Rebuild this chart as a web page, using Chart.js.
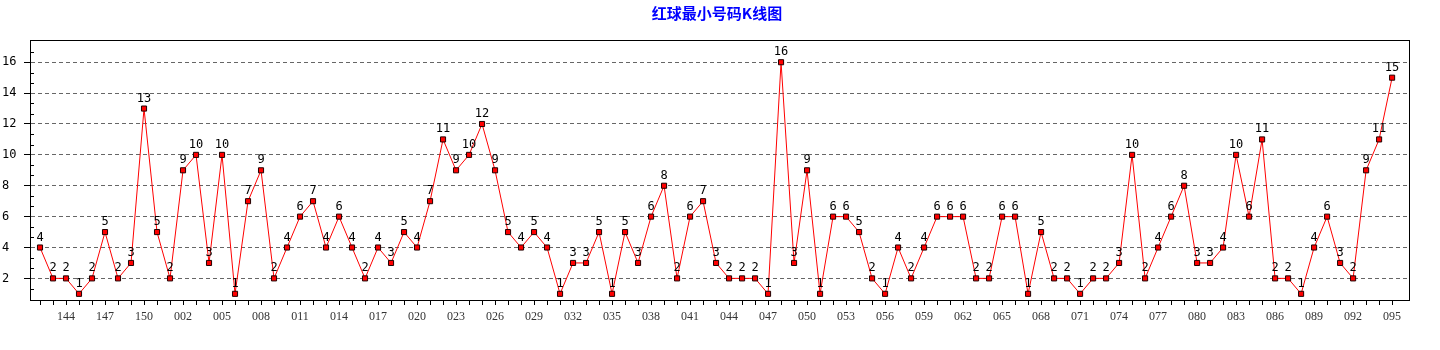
<!DOCTYPE html>
<html>
<head>
<meta charset="utf-8">
<title>红球最小号码K线图</title>
<script src="https://cdn.jsdelivr.net/npm/chart.js@4.4.1/dist/chart.umd.min.js"></script>
<style>
  html, body { margin: 0; padding: 0; background: #fff; }
  canvas { display: block; }
</style>
</head>
<body>
<canvas id="kline" width="1440" height="350"></canvas>
<script>
// Issue numbers (x axis) and the smallest red ball of each draw
const issues = [
  '142','143','144','145','146','147','148','149','150','151',
  '001','002','003','004','005','006','007','008','009','010',
  '011','012','013','014','015','016','017','018','019','020',
  '021','022','023','024','025','026','027','028','029','030',
  '031','032','033','034','035','036','037','038','039','040',
  '041','042','043','044','045','046','047','048','049','050',
  '051','052','053','054','055','056','057','058','059','060',
  '061','062','063','064','065','066','067','068','069','070',
  '071','072','073','074','075','076','077','078','079','080',
  '081','082','083','084','085','086','087','088','089','090',
  '091','092','093','094','095'
];
const minRed = [
  4, 2, 2, 1, 2, 5, 2, 3, 13, 5,
  2, 9, 10, 3, 10, 1, 7, 9, 2, 4,
  6, 7, 4, 6, 4, 2, 4, 3, 5, 4,
  7, 11, 9, 10, 12, 9, 5, 4, 5, 4,
  1, 3, 3, 5, 1, 5, 3, 6, 8, 2,
  6, 7, 3, 2, 2, 2, 1, 16, 3, 9,
  1, 6, 6, 5, 2, 1, 4, 2, 4, 6,
  6, 6, 2, 2, 6, 6, 1, 5, 2, 2,
  1, 2, 2, 3, 10, 2, 4, 6, 8, 3,
  3, 4, 10, 6, 11, 2, 2, 1, 4, 6,
  3, 2, 9, 11, 15
];
const yTicks = [2, 4, 6, 8, 10, 12, 14, 16];
const chartTitle = '红球最小号码K线图';

const MONO = '"DejaVu Sans Mono", monospace';

// title, drawn a bit right of centre like the original
const titlePlugin = {
  id: 'titleText',
  afterDraw(chart) {
    const ctx = chart.ctx;
    ctx.save();
    ctx.font = 'bold 15px "Noto Sans CJK SC", sans-serif';
    ctx.fillStyle = '#0000ff';
    ctx.textAlign = 'center';
    ctx.textBaseline = 'middle';
    ctx.fillText(chartTitle, 717, 13);
    ctx.restore();
  }
};

// value label above each point
const pointLabels = {
  id: 'pointLabels',
  afterDatasetsDraw(chart) {
    const ctx = chart.ctx;
    const meta = chart.getDatasetMeta(0);
    ctx.save();
    ctx.font = '12px ' + MONO;
    ctx.fillStyle = '#000';
    ctx.textAlign = 'center';
    ctx.textBaseline = 'alphabetic';
    meta.data.forEach((pt, i) => ctx.fillText(String(minRed[i]), pt.x, pt.y - 7));
    ctx.restore();
  }
};

// frame round the plot + small inner ticks on the y axis
const frame = {
  id: 'frame',
  afterDraw(chart) {
    const { ctx, chartArea: a } = chart;
    const y = chart.scales.y;
    ctx.save();
    ctx.strokeStyle = '#000';
    ctx.lineWidth = 1;
    ctx.strokeRect(Math.round(a.left) + 0.5, Math.round(a.top) + 0.5,
      Math.round(a.right - a.left), Math.round(a.bottom - a.top));
    ctx.beginPath();
    for (let k = -1; k <= 22; k++) {
      const v = 2 + k * 2 / 3;
      if (k % 3 === 0 || v < y.min || v > y.max) continue;
      const py = Math.round(y.getPixelForValue(v)) + 0.5;
      ctx.moveTo(a.left, py);
      ctx.lineTo(a.left + 4, py);
    }
    ctx.stroke();
    ctx.restore();
  }
};

new Chart(document.getElementById('kline'), {
  type: 'line',
  data: {
    datasets: [{
      data: minRed.map((v, i) => ({ x: i, y: v })),
      borderColor: '#ff0000',
      borderWidth: 1,
      tension: 0,
      pointStyle: 'rect',
      pointRadius: 3.6,
      pointBackgroundColor: '#ff0000',
      pointBorderColor: '#200000',
      pointBorderWidth: 1,
    }]
  },
  options: {
    responsive: false,
    animation: false,
    layout: { padding: { left: 2, right: 31, top: 40, bottom: 0 } },
    plugins: {
      legend: { display: false },
      tooltip: { enabled: false },
      title: { display: false },
    },
    scales: {
      x: {
        type: 'linear',
        min: -0.77,
        max: 105.3,
        afterBuildTicks: (s) => { s.ticks = issues.map((_, i) => ({ value: i })); },
        afterFit: (s) => { s.height = 50; },
        ticks: {
          autoSkip: false,
          maxRotation: 0,
          padding: 5,
          color: '#333',
          font: { family: '"Liberation Serif", serif', size: 12 },
          callback: (v) => (v % 3 === 2 ? issues[v] : ''),
        },
        grid: { drawOnChartArea: false, drawTicks: true, tickLength: 5, color: '#000' },
        border: { color: '#000', width: 1 },
      },
      y: {
        min: 0.6,
        max: 17.44,
        afterBuildTicks: (s) => { s.ticks = yTicks.map(v => ({ value: v })); },
        afterFit: (s) => { s.width = 28; },
        ticks: {
          crossAlign: 'far',
          padding: 4,
          color: '#000',
          font: { family: MONO, size: 12 },
        },
        grid: { color: '#666', tickColor: '#000', tickLength: 6, tickBorderDash: [] },
        border: { color: '#000', dash: [4, 3] },
      },
    },
  },
  plugins: [pointLabels, frame, titlePlugin],
});
</script>
</body>
</html>
